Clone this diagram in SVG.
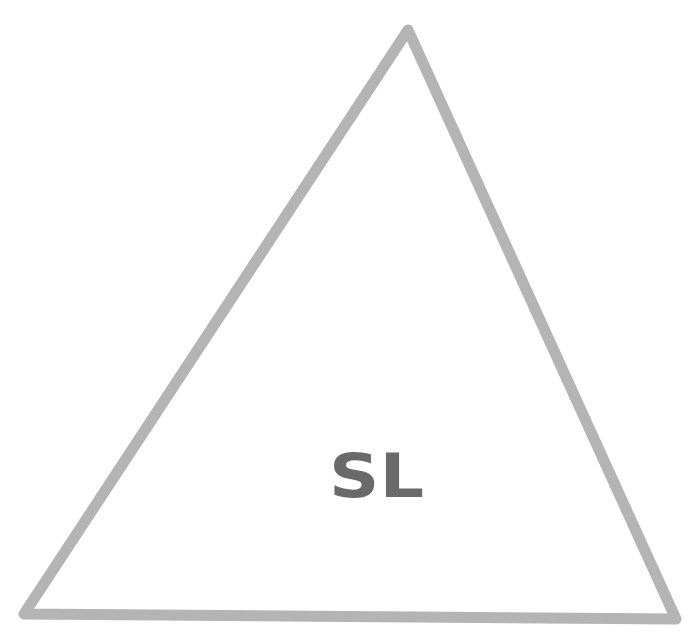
<svg xmlns="http://www.w3.org/2000/svg" width="694" height="641" viewBox="0 0 694 641">
<style>
.tri{fill:none;stroke:#b4b4b4;stroke-width:11;stroke-linejoin:round}
.lbl{font-family:"DejaVu Sans","Liberation Sans",sans-serif;font-weight:bold;font-size:60px;fill:#6a6a6a}
</style>
<rect width="694" height="641" fill="#ffffff"/>
<g id="triangle">
<polygon class="tri" points="408,30 24,614 676,619"/>
<text class="lbl" x="329" y="497" textLength="95" lengthAdjust="spacingAndGlyphs">SL</text>
</g>
</svg>
